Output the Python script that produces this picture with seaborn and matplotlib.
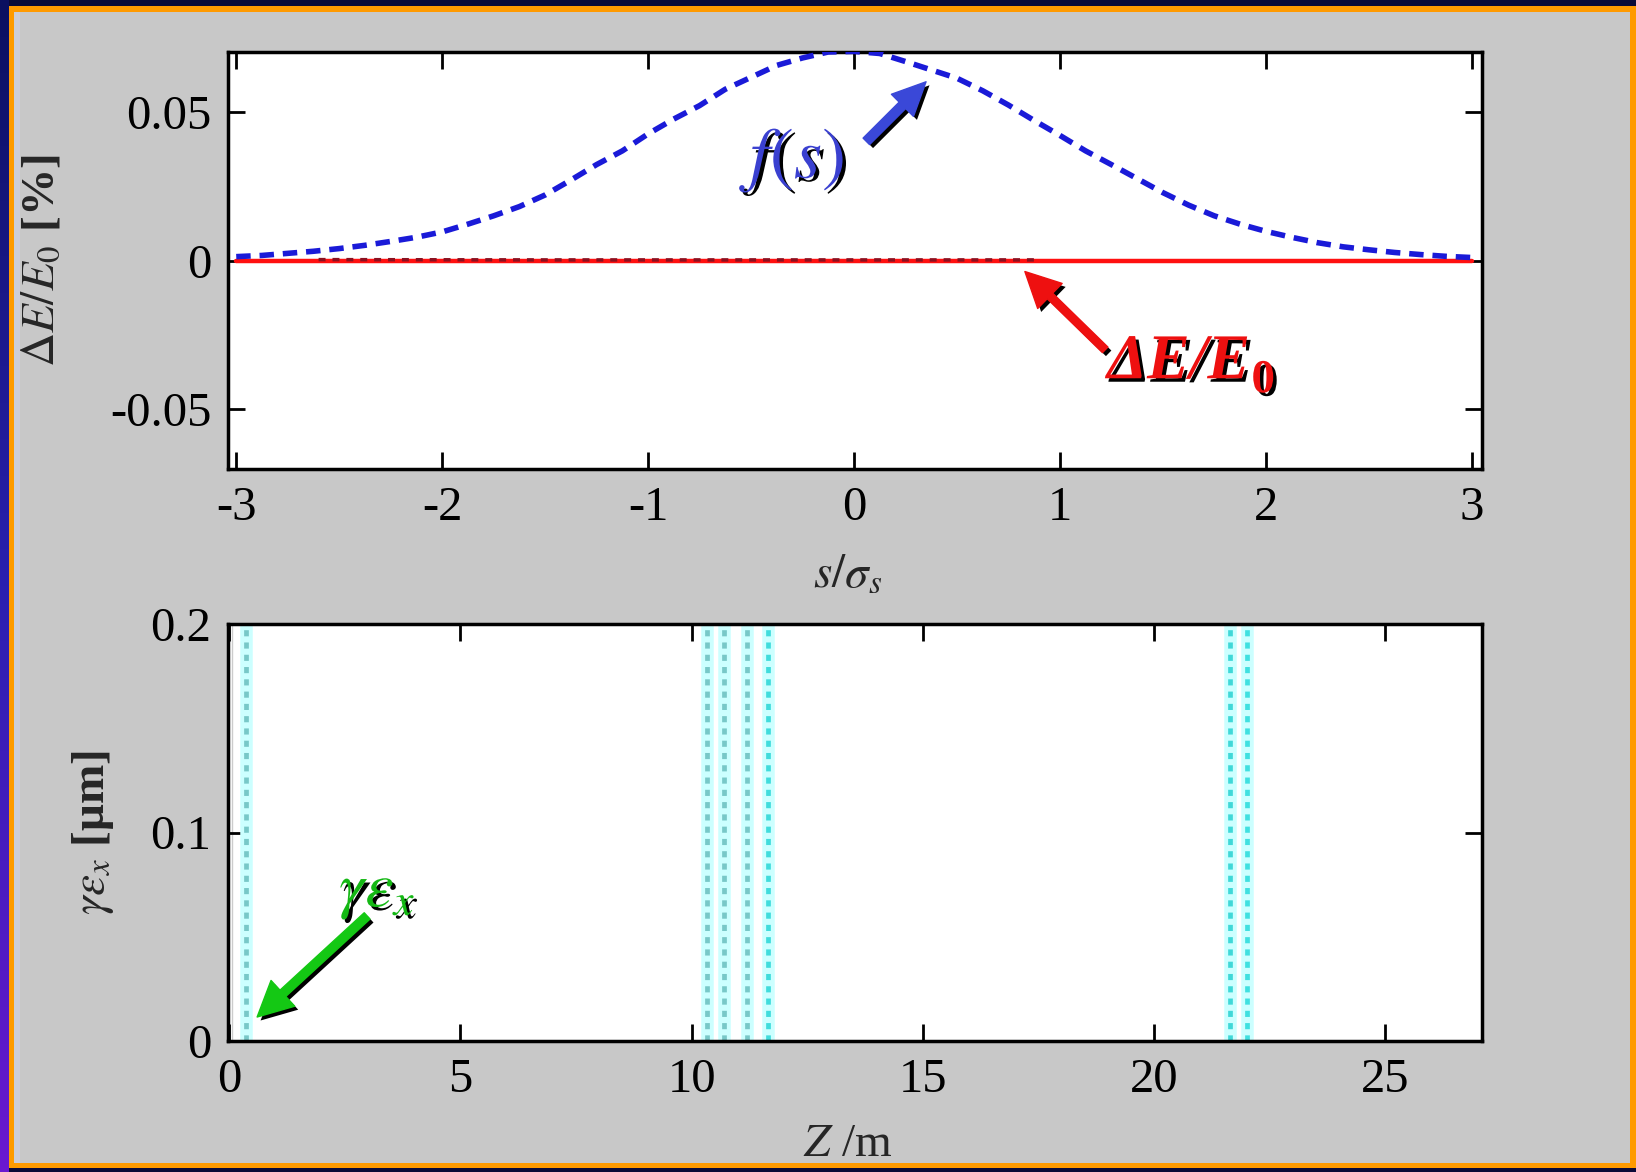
import numpy as np
import pandas as pd
import matplotlib
matplotlib.use("Agg")
import matplotlib.pyplot as plt
import matplotlib.patheffects as pe
from matplotlib.patches import Rectangle
import seaborn as sns

# ---------------- data ----------------
s_vals = [-3.000, -2.875, -2.750, -2.625, -2.500, -2.375, -2.250, -2.125, -2.000,
          -1.875, -1.750, -1.625, -1.500, -1.375, -1.250, -1.125, -1.000, -0.875,
          -0.750, -0.625, -0.500, -0.375, -0.250, -0.125, 0.000, 0.125, 0.250,
          0.375, 0.500, 0.625, 0.750, 0.875, 1.000, 1.125, 1.250, 1.375, 1.500,
          1.625, 1.750, 1.875, 2.000, 2.125, 2.250, 2.375, 2.500, 2.625, 2.750,
          2.875, 3.000]
f_vals = [0.0013, 0.0017, 0.0024, 0.0031, 0.0040, 0.0051, 0.0064, 0.0078, 0.0096,
          0.0122, 0.0150, 0.0181, 0.0220, 0.0270, 0.0322, 0.0368, 0.0425, 0.0475,
          0.0520, 0.0575, 0.0615, 0.0655, 0.0680, 0.0700, 0.0702, 0.0695, 0.0668,
          0.0640, 0.0612, 0.0570, 0.0522, 0.0470, 0.0420, 0.0368, 0.0322, 0.0275,
          0.0228, 0.0186, 0.0150, 0.0122, 0.0098, 0.0078, 0.0060, 0.0046, 0.0036,
          0.0027, 0.0020, 0.0014, 0.0010]
dE_vals = [0.0] * len(s_vals)
dE_early_s = [-2.6, -1.5, -0.5, 0.5, 0.9]
dE_early_v = [0.0003, 0.0002, 0.0002, 0.0002, 0.0002]

magnet_z = [0.35, 10.33, 10.71, 11.20, 11.65, 21.65, 22.02]
emit_z = [0.05, 0.05]
emit_y = [0.0, 0.2]

top_xticks = [-3, -2, -1, 0, 1, 2, 3]
top_xticklabels = ["-3", "-2", "-1", "0", "1", "2", "3"]
top_yticks = [-0.05, 0, 0.05]
top_yticklabels = ["-0.05", "0", "0.05"]
bot_xticks = [0, 5, 10, 15, 20, 25]
bot_xticklabels = ["0", "5", "10", "15", "20", "25"]
bot_yticks = [0, 0.1, 0.2]
bot_yticklabels = ["0", "0.1", "0.2"]

# ---------------- style ----------------
sns.set_style("ticks")
plt.rcParams["font.family"] = ["Liberation Serif", "DejaVu Serif"]
plt.rcParams["mathtext.fontset"] = "stix"
plt.rcParams["axes.unicode_minus"] = False

W, H = 1636, 1172
fig = plt.figure(figsize=(W / 100, H / 100), dpi=100)
fig.patch.set_facecolor("#0a0a38")

# left gradient strip
ax_strip = fig.add_axes([0, 0, 9 / W, 1])
grad = np.linspace(0, 1, 256).reshape(-1, 1)
cmap = matplotlib.colors.LinearSegmentedColormap.from_list("g", ["#0a1060", "#2a20b0", "#6a18d0"])
ax_strip.imshow(grad, aspect="auto", cmap=cmap)
ax_strip.set_axis_off()

def rect_px(x0, ytop0, x1, ytop1, color):
    fig.patches.append(Rectangle((x0 / W, 1 - ytop1 / H), (x1 - x0) / W, (ytop1 - ytop0) / H,
                                 transform=fig.transFigure, facecolor=color,
                                 edgecolor="none", zorder=-10))

rect_px(8, 6, 1636, 1168, "#ff9a00")
rect_px(14, 12, 1630, 1163, "#c8c8c8")
rect_px(14, 12, 20, 1163, "#cdcdd8")

ax1 = fig.add_axes([228 / W, 1 - 469 / H, 1254 / W, 417 / H])
ax2 = fig.add_axes([228 / W, 1 - 1041 / H, 1254 / W, 417 / H])

shadow = [pe.withSimplePatchShadow(offset=(2.5, -2.5), shadow_rgbFace="black", alpha=1.0)]

# ---------------- top panel ----------------
sns.lineplot(x=dE_early_s, y=dE_early_v, ax=ax1, color="#8a1020", lw=2.5,
             linestyle=(0, (2, 2)), zorder=3)
sns.lineplot(x=s_vals, y=dE_vals, ax=ax1, color="#ff1010", lw=3.2, zorder=2)
sns.lineplot(x=s_vals, y=f_vals, ax=ax1, color="#1a1ad8", lw=4.0,
             linestyle=(0, (2.6, 1.6)), zorder=4)

ax1.set_xlim(-3.04, 3.05)
ax1.set_ylim(-0.07, 0.07)
ax1.set_xticks(top_xticks, top_xticklabels)
ax1.set_yticks(top_yticks, top_yticklabels)
ax1.set_xlabel(r"$s/\sigma_s$", fontsize=34)
ax1.set_ylabel(r"$\Delta E/E_0$ [%]", fontsize=34, fontweight="bold")
ax1.xaxis.set_label_coords(0.494, -0.255)
ax1.xaxis.label.set_va("center")
ax1.yaxis.set_label_coords(-0.148, 0.5)
ax1.yaxis.label.set_va("center")

ax1.text(-0.25, 0.0335, r"$f(s)$", color="#3a40d0", fontsize=52, ha="center",
         va="center", path_effects=shadow, zorder=6)
ax1.annotate("", xy=(0.35, 0.060), xytext=(0.06, 0.040),
             arrowprops=dict(arrowstyle="simple,head_length=0.8,head_width=0.75,tail_width=0.22",
                             mutation_scale=30, color="#3a48d8", shrinkA=0, shrinkB=0,
                             path_effects=shadow), zorder=6)

t = ax1.text(1.229, -0.0345, "ΔE/E", color="#ee1010", fontsize=46, fontweight="bold",
             fontstyle="italic", ha="left", va="center", path_effects=shadow, zorder=6)
ax1.annotate("0", xy=(1.0, 0.0), xycoords=t, xytext=(1, 0), textcoords="offset points",
             color="#ee1010", fontsize=34, fontweight="bold", ha="left", va="baseline",
             path_effects=shadow, zorder=6)
ax1.annotate("", xy=(0.83, -0.0037), xytext=(1.22, -0.030),
             arrowprops=dict(arrowstyle="simple,head_length=0.9,head_width=0.9,tail_width=0.2",
                             mutation_scale=28, color="#ee1010", shrinkA=0, shrinkB=0,
                             path_effects=shadow), zorder=6)

# ---------------- bottom panel ----------------
line_cols = ["#78c8c8", "#78c8c8", "#78c8c8", "#78c8c8", "#40dcdc", "#40d8d8", "#40e0e0"]
for z, c in zip(magnet_z, line_cols):
    ax2.axvline(z, color="#ccffff", lw=9, zorder=1)
    ax2.axvline(z, color=c, lw=3.4, linestyle=(0, (1.3, 1.3)), zorder=2)
sns.lineplot(x=emit_z, y=emit_y, ax=ax2, color="black", lw=1.2,
             linestyle=(0, (3, 2)), zorder=3, sort=False)

ax2.set_xlim(-0.03, 27.1)
ax2.set_ylim(0, 0.2)
ax2.set_xticks(bot_xticks, bot_xticklabels)
ax2.set_yticks(bot_yticks, bot_yticklabels)
ax2.set_xlabel(r"$Z$ /m", fontsize=34)
ax2.set_ylabel(r"$\gamma\varepsilon_x$ [μm]", fontsize=34, fontweight="bold")
ax2.xaxis.set_label_coords(0.494, -0.25)
ax2.xaxis.label.set_va("center")
ax2.yaxis.set_label_coords(-0.108, 0.5)
ax2.yaxis.label.set_va("center")

ax2.text(3.2, 0.071, r"$\gamma\varepsilon_x$", color="#14b814", fontsize=46, ha="center",
         va="center", path_effects=shadow, zorder=6)
ax2.annotate("", xy=(0.6, 0.0115), xytext=(2.98, 0.060),
             arrowprops=dict(arrowstyle="simple,head_length=0.9,head_width=0.9,tail_width=0.22",
                             mutation_scale=28, color="#14c814", shrinkA=0, shrinkB=0,
                             path_effects=shadow), zorder=6)

for ax in (ax1, ax2):
    ax.set_facecolor("white")
    for sp in ax.spines.values():
        sp.set_visible(True)
        sp.set_linewidth(2.5)
        sp.set_color("black")
    ax.tick_params(direction="in", length=12, width=2, top=True, right=True,
                   labelsize=35, pad=12, colors="black")
    ax.grid(False)

fig.savefig("out.png", dpi=100, facecolor=fig.get_facecolor())
